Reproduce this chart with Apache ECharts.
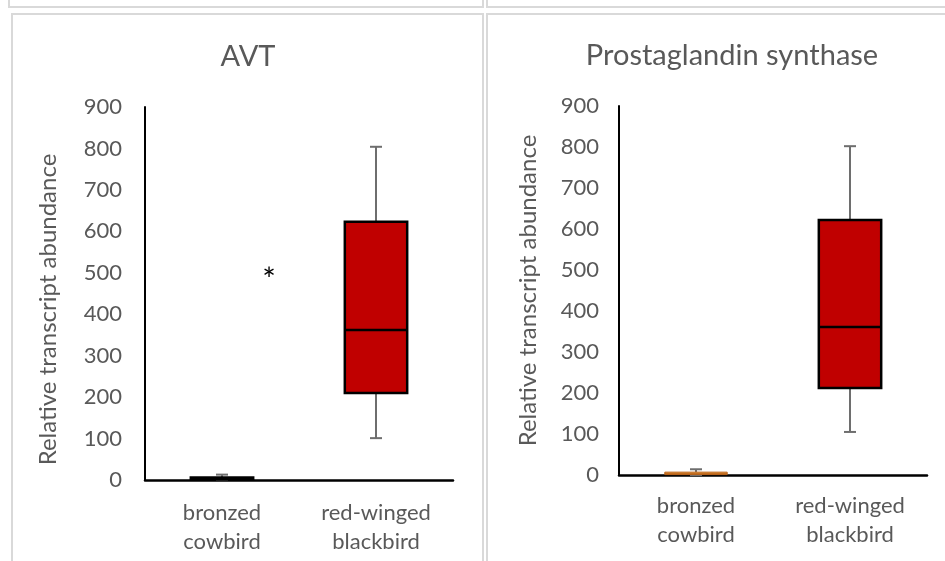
<!DOCTYPE html>
<html>
<head>
<meta charset="utf-8">
<script src="https://cdn.jsdelivr.net/npm/echarts@6/dist/echarts.min.js"></script>
<style>
html,body{margin:0;padding:0;background:#fff;}
#chart{width:945px;height:561px;}
</style>
</head>
<body>
<div id="chart"></div>
<script>
// ---- data ----
var categories = ['bronzed\ncowbird', 'red-winged\nblackbird'];
var titles = ['AVT', 'Prostaglandin synthase'];
var yAxisName = 'Relative transcript abundance';
var yTicks = [0, 100, 200, 300, 400, 500, 600, 700, 800, 900];
// [min, Q1, median, Q3, max]
var avtBronzed = [0, 1, 3, 6, 13];
var avtRedwing = [101, 210, 362, 623, 804];
var pgsBronzed = [0, 1, 3, 7, 14];
var pgsRedwing = [105, 212, 361, 622, 802];
var annotation = '*';

var FONT = 'Lato, "Open Sans", sans-serif';
var TXT = '#595959';

function boxRender(fills, strokes, strokeW) {
  return function (params, api) {
    var i = api.value(0);
    var mn = api.coord([i, api.value(1)]);
    var q1 = api.coord([i, api.value(2)]);
    var md = api.coord([i, api.value(3)]);
    var q3 = api.coord([i, api.value(4)]);
    var mx = api.coord([i, api.value(5)]);
    var band = api.size([1, 0])[0];
    var w = band * 0.405;
    var x = mn[0];
    var cap = 6;
    var wc = '#6e6e6e';
    return {
      type: 'group',
      children: [
        {type: 'line', shape: {x1: x, y1: q3[1], x2: x, y2: mx[1]}, style: {stroke: wc, lineWidth: 2}},
        {type: 'line', shape: {x1: x - cap, y1: mx[1], x2: x + cap, y2: mx[1]}, style: {stroke: wc, lineWidth: 2}},
        {type: 'line', shape: {x1: x, y1: q1[1], x2: x, y2: mn[1]}, style: {stroke: wc, lineWidth: 2}},
        {type: 'line', shape: {x1: x - cap, y1: mn[1], x2: x + cap, y2: mn[1]}, style: {stroke: wc, lineWidth: 2}},
        {type: 'rect', shape: {x: x - w / 2, y: q3[1], width: w, height: q1[1] - q3[1]},
          style: {fill: fills[i], stroke: strokes[i], lineWidth: strokeW[i]}},
        {type: 'line', shape: {x1: x - w / 2, y1: md[1], x2: x + w / 2, y2: md[1]},
          style: {stroke: strokes[i], lineWidth: strokeW[i]}}
      ]
    };
  };
}

function mkData(a, b) {
  return [[0].concat(a), [1].concat(b)];
}

var grids = [
  {left: 145, right: 492, top: 107, bottom: 81},
  {left: 619, right: 18, top: 106, bottom: 86}
];

function xAx(gi) {
  return {
    type: 'category', gridIndex: gi, data: categories,
    axisLine: {lineStyle: {color: '#000', width: 2.5}},
    axisTick: {show: false},
    axisLabel: {color: TXT, fontFamily: FONT, fontSize: 22, lineHeight: 29, margin: gi === 0 ? 18 : 16}
  };
}
function yAx(gi, gap, pad) {
  return {
    type: 'value', gridIndex: gi, min: yTicks[0], max: yTicks[yTicks.length - 1],
    interval: yTicks[1] - yTicks[0],
    splitLine: {show: false},
    axisTick: {show: false},
    axisLine: {show: true, lineStyle: {color: '#000', width: 2}},
    axisLabel: {color: TXT, fontFamily: FONT, fontSize: 22, margin: gi === 0 ? 23 : 20},
    name: yAxisName, nameLocation: 'middle', nameRotate: 90, nameGap: gap,
    nameTextStyle: {color: TXT, fontFamily: FONT, fontSize: 24, padding: pad}
  };
}

var border = '#d9d9d9';
var chart = echarts.init(document.getElementById('chart'), null, {renderer: 'canvas'});
chart.setOption({
  animation: false,
  backgroundColor: '#fff',
  grid: grids,
  xAxis: [xAx(0), xAx(1)],
  yAxis: [yAx(0, 85, [0, 32, 0, 0]), yAx(1, 79, [0, 0, 0, 0])],
  graphic: [
    {type: 'rect', silent: true, z: -10, shape: {x: 9, y: -20, width: 474, height: 27}, style: {fill: 'none', stroke: border, lineWidth: 2}},
    {type: 'rect', silent: true, z: -10, shape: {x: 487, y: -20, width: 500, height: 27}, style: {fill: 'none', stroke: border, lineWidth: 2}},
    {type: 'rect', silent: true, z: -10, shape: {x: 12, y: 14, width: 471, height: 600}, style: {fill: 'none', stroke: border, lineWidth: 2}},
    {type: 'rect', silent: true, z: -10, shape: {x: 487, y: 14, width: 500, height: 600}, style: {fill: 'none', stroke: border, lineWidth: 2}},
    {type: 'text', x: 248, y: 57, style: {text: titles[0], fill: TXT, font: '29px ' + FONT, textAlign: 'center', textVerticalAlign: 'middle'}},
    {type: 'text', x: 732, y: 56, style: {text: titles[1], fill: TXT, font: '29px ' + FONT, textAlign: 'center', textVerticalAlign: 'middle'}},
    {type: 'text', x: 269, y: 281, style: {text: annotation, fill: '#000', font: '32px ' + FONT, textAlign: 'center', textVerticalAlign: 'middle'}}
  ],
  series: [
    {
      type: 'custom', xAxisIndex: 0, yAxisIndex: 0,
      data: mkData(avtBronzed, avtRedwing),
      renderItem: boxRender(['#000000', '#C00000'], ['#000000', '#000000'], [2.5, 2.5])
    },
    {
      type: 'custom', xAxisIndex: 1, yAxisIndex: 1,
      data: mkData(pgsBronzed, pgsRedwing),
      renderItem: boxRender(['#E0912F', '#C00000'], ['#B8621B', '#000000'], [1, 2.5])
    }
  ]
});
</script>
</body>
</html>
